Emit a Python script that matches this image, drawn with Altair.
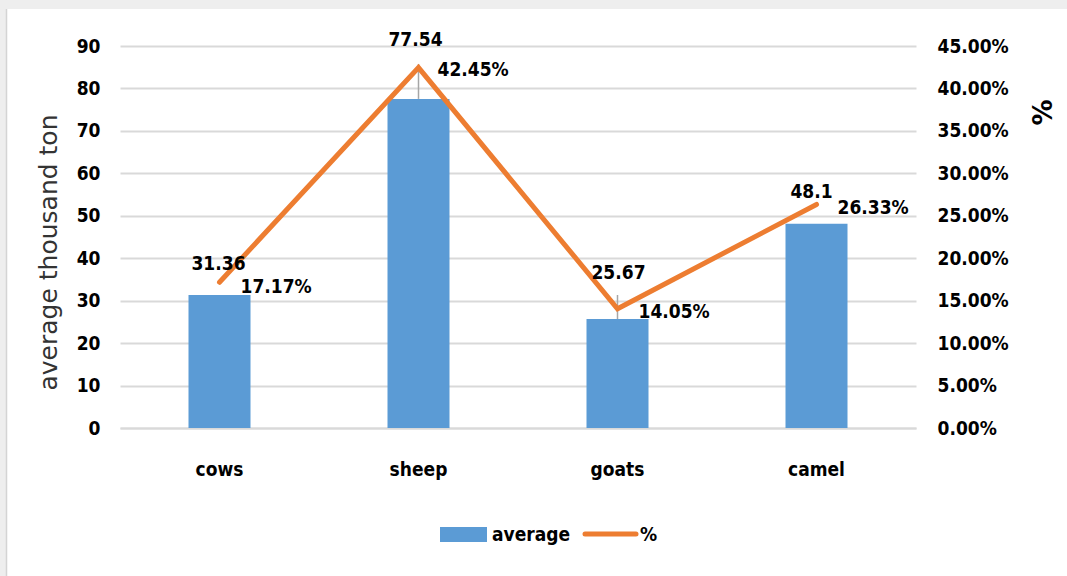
import altair as alt
import pandas as pd

categories = ["cows", "sheep", "goats", "camel"]
average = [31.36, 77.54, 25.67, 48.1]
percent = [0.1717, 0.4245, 0.1405, 0.2633]
avg_labels = ["31.36", "77.54", "25.67", "48.1"]
pct_labels = ["17.17%", "42.45%", "14.05%", "26.33%"]

df = pd.DataFrame({
    "animal": categories,
    "average": average,
    "pct": percent,
    "avg_label": avg_labels,
    "pct_label": pct_labels,
})

BLUE = "#5B9BD5"
ORANGE = "#ED7D31"
FONT = "'DejaVu Sans Condensed', 'Liberation Sans Narrow', 'Liberation Sans'"
FS = 19
W, H = 796, 382

x_enc = alt.X("animal:N", sort=categories, title=None,
              scale=alt.Scale(paddingInner=0, paddingOuter=0),
              axis=alt.Axis(labelAngle=0, labelFont=FONT, labelFontSize=FS,
                            labelFontWeight="bold", labelColor="#000000",
                            labelPadding=32, ticks=False, domain=True,
                            domainColor="#d9d9d9", domainWidth=2, grid=False))

y_avg_scale = alt.Scale(domain=[0, 90], nice=False, zero=True)
y_pct_scale = alt.Scale(domain=[0, 0.45], nice=False, zero=True)

base = alt.Chart(df)
one = alt.Chart(pd.DataFrame({"k": [0]}))

top_strip = one.mark_rect(color="#eeeeee").encode(
    x=alt.value(-120), x2=alt.value(W + 151), y=alt.value(-46), y2=alt.value(-37))
left_strip = one.mark_rect(color="#eeeeee").encode(
    x=alt.value(-120), x2=alt.value(-114), y=alt.value(-46), y2=alt.value(H + 148))
left_edge = one.mark_rule(color="#d4d4d4", strokeWidth=1.5).encode(
    x=alt.value(-113.5), y=alt.value(-37), y2=alt.value(H + 148))

bars = base.mark_bar(size=62, color=BLUE).encode(
    x=x_enc,
    y=alt.Y("average:Q", scale=y_avg_scale, title="average thousand ton",
            axis=alt.Axis(values=list(range(0, 91, 10)), labelFont=FONT,
                          labelFontSize=FS, labelFontWeight="bold",
                          labelColor="#000000", labelPadding=20, ticks=False,
                          domain=False, grid=True, gridColor="#d9d9d9",
                          gridWidth=2, titleFont="DejaVu Sans",
                          titleFontSize=25, titleFontWeight="normal",
                          titleColor="#333333", titleX=-72, titleY=206,
                          titleBaseline="middle", titleAngle=-90)),
)

leader_y2 = {"sheep": 18, "goats": 249}
leaders = []
for cat, y2 in leader_y2.items():
    leaders.append(
        base.transform_filter(alt.datum.animal == cat).mark_rule(
            color="#a6a6a6", strokeWidth=1.5
        ).encode(
            x=x_enc,
            y=alt.Y("average:Q", scale=y_avg_scale, axis=None),
            y2=alt.value(y2),
        )
    )

line = base.mark_line(color=ORANGE, strokeWidth=5, strokeCap="round",
                      strokeJoin="miter").encode(
    x=x_enc,
    y=alt.Y("pct:Q", scale=y_pct_scale, title="%",
            axis=alt.Axis(orient="right", format=".2%",
                          values=[i * 0.05 for i in range(10)],
                          labelFont=FONT, labelFontSize=FS,
                          labelFontWeight="bold", labelColor="#000000",
                          labelPadding=21, ticks=False, domain=False,
                          grid=False, titleFont="DejaVu Sans",
                          titleFontSize=26, titleFontWeight="bold",
                          titleColor="#000000", titleAngle=-90,
                          titleX=127, titleY=66, titleBaseline="middle")),
)

avg_offsets = {"cows": (-1, -31), "sheep": (-3, -59), "goats": (1, -46), "camel": (-5, -32)}
pct_offsets = {"cows": (21, 5), "sheep": (19, 2), "goats": (21, 3), "camel": (21, 4)}

avg_texts = []
for cat, (dx, dy) in avg_offsets.items():
    avg_texts.append(
        base.transform_filter(alt.datum.animal == cat).mark_text(
            font=FONT, fontSize=FS, fontWeight="bold", color="#000000",
            align="center", baseline="middle", dx=dx, dy=dy
        ).encode(
            x=x_enc,
            y=alt.Y("average:Q", scale=y_avg_scale, axis=None),
            text="avg_label:N",
        )
    )

pct_texts = []
for cat, (dx, dy) in pct_offsets.items():
    pct_texts.append(
        base.transform_filter(alt.datum.animal == cat).mark_text(
            font=FONT, fontSize=FS, fontWeight="bold", color="#000000",
            align="left", baseline="middle", dx=dx, dy=dy
        ).encode(
            x=x_enc,
            y=alt.Y("pct:Q", scale=y_pct_scale, axis=None),
            text="pct_label:N",
        )
    )

# manual legend
leg_rect = one.mark_rect(color=BLUE).encode(
    x=alt.value(320), x2=alt.value(367), y=alt.value(481), y2=alt.value(496))
leg_txt1 = one.mark_text(font=FONT, fontSize=FS, fontWeight="bold", color="#000000",
                         align="left", baseline="middle").encode(
    x=alt.value(372), y=alt.value(489), text=alt.value("average"))
leg_line = one.mark_rule(color=ORANGE, strokeWidth=5, strokeCap="round").encode(
    x=alt.value(465), x2=alt.value(516), y=alt.value(488))
leg_txt2 = one.mark_text(font=FONT, fontSize=FS, fontWeight="bold", color="#000000",
                         align="left", baseline="middle").encode(
    x=alt.value(520), y=alt.value(489), text=alt.value("%"))

chart = alt.layer(
    top_strip, left_strip, left_edge, bars, *leaders, line, *avg_texts, *pct_texts,
    leg_rect, leg_txt1, leg_line, leg_txt2
).resolve_scale(y="independent").properties(
    width=W, height=H,
    autosize=alt.AutoSizeParams(type="none"),
    padding={"left": 120, "top": 46, "right": 151, "bottom": 148},
    background="#ffffff",
).configure_view(stroke=None)

chart.save("out.html", embed_options={"renderer": "svg", "actions": False})
